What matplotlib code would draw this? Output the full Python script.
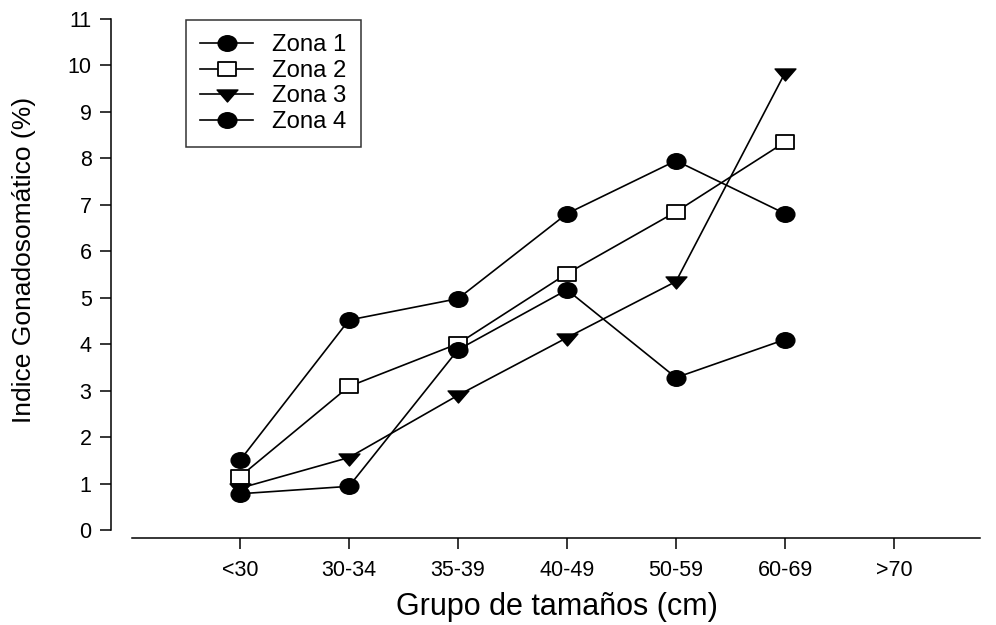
import numpy as np
import matplotlib
matplotlib.use("Agg")
import matplotlib.pyplot as plt
from matplotlib.path import Path

plt.rcParams['font.family'] = ['Liberation Sans', 'DejaVu Sans']

grupos = ['<30', '30-34', '35-39', '40-49', '50-59', '60-69', '>70']
zona1 = [1.50, 4.52, 4.98, 6.81, 7.95, 6.81]
zona2 = [1.15, 3.09, 4.01, 5.52, 6.85, 8.35]
zona3 = [0.90, 1.56, 2.90, 4.14, 5.35, 9.84]
zona4 = [0.78, 0.94, 3.88, 5.17, 3.28, 4.10]

x = np.arange(len(zona1))


def squashed(path, sy):
    # markers look a bit wider than tall
    v = path.vertices.copy()
    v[:, 1] *= sy
    return Path(v, path.codes)


circ = squashed(Path.unit_circle(), 0.83)
sq = squashed(Path([(-1, -1), (1, -1), (1, 1), (-1, 1), (-1, -1)],
                   [1, 2, 2, 2, 79]), 0.78)
tri = squashed(Path([(-1, 0.6), (1, 0.6), (0, -1.0), (-1, 0.6)],
                    [1, 2, 2, 79]), 0.72)

fig = plt.figure(figsize=(9.96, 6.25), dpi=100)
W, H = 996, 625
# axes box in pixels: x 111..980, y 19..538
ax = fig.add_axes([111 / W, 1 - 538 / H, 869 / W, 519 / H])

lw = 1.2
ax.plot(x, zona1, color='black', lw=lw, marker=circ, ms=13.5, mfc='black', mec='black', label='Zona 1')
ax.plot(x, zona2, color='black', lw=lw, marker=sq, ms=12.5, mfc='white', mec='black', mew=1.3, label='Zona 2')
ax.plot(x, zona3, color='black', lw=lw, marker=tri, ms=15, mfc='black', mec='black', label='Zona 3')
ax.plot(x, zona4, color='black', lw=lw, marker=circ, ms=13.5, mfc='black', mec='black', label='Zona 4')

ax.set_xlim((111 - 240) / 109, (980 - 240) / 109)
ax.set_ylim(-8 / 46.45, 11)
ax.set_xticks(np.arange(len(grupos)))
ax.set_xticklabels(grupos)
ax.set_yticks(np.arange(0, 12))

for s in ['top', 'right']:
    ax.spines[s].set_visible(False)
ax.spines['left'].set_bounds(0, 11)
ax.spines['bottom'].set_bounds((132 - 240) / 109, (980 - 240) / 109)
ax.spines['left'].set_linewidth(1.1)
ax.spines['bottom'].set_linewidth(1.1)
ax.tick_params(axis='both', direction='out', length=8, width=1.1, labelsize=15.5)
ax.tick_params(axis='x', pad=8)
ax.tick_params(axis='y', pad=6)

ax.set_xlabel('Grupo de tamaños (cm)', fontsize=22)
ax.set_ylabel('Indice Gonadosomático (%)', fontsize=19)
ax.xaxis.set_label_coords((557 - 111) / 869, -(592 - 538) / 519)
ax.yaxis.set_label_coords(-(111 - 36) / 869, 1 - (260 - 19) / 519)

leg = ax.legend(loc='upper left', bbox_to_anchor=((186 - 111) / 869, 1 - (20 - 19) / 519),
                fontsize=17.2, frameon=True, fancybox=False, edgecolor='black',
                handlelength=2.2, handletextpad=0.8, labelspacing=0.15, borderpad=0.6,
                borderaxespad=0)
leg.get_frame().set_linewidth(1.1)

fig.savefig('out.png', dpi=100)
